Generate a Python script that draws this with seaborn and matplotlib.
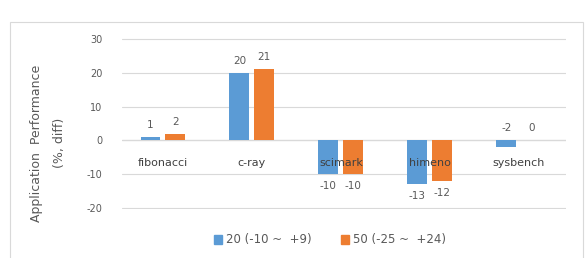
import matplotlib
matplotlib.use("Agg")
import matplotlib.pyplot as plt
import matplotlib.patches as mpatches
import pandas as pd
import seaborn as sns

# values
benchmarks = ["fibonacci", "c-ray", "scimark", "himeno", "sysbench"]
series_names = ["20 (-10 ~  +9)", "50 (-25 ~  +24)"]
perf_20 = [1, 20, -10, -13, -2]
perf_50 = [2, 21, -10, -12, 0]
y_ticks = [-20, -10, 0, 10, 20, 30]

colors = ["#5B9BD5", "#ED7D31"]
text_color = "#595959"

df = pd.DataFrame({
    "benchmark": benchmarks * 2,
    "series": [series_names[0]] * len(benchmarks) + [series_names[1]] * len(benchmarks),
    "value": perf_20 + perf_50,
})

sns.set_style("white")
plt.rcParams["font.family"] = ["DejaVu Sans"]

fig = plt.figure(figsize=(5.87, 2.58), dpi=100)
# light outer frame like the Excel chart area
fig.patches.append(mpatches.Rectangle((10 / 587, -0.05), 573 / 587, 1 - 22 / 258 + 0.05,
                                      transform=fig.transFigure, fill=False,
                                      edgecolor="#d9d9d9", linewidth=0.8))
ax = fig.add_axes([122 / 587, 1 - 209 / 258, 444 / 587, 171 / 258])

sns.barplot(data=df, x="benchmark", y="value", hue="series", palette=colors,
            width=0.56, gap=0.2, ax=ax, legend=False, saturation=1, linewidth=0)

ax.set_ylim(-20.3, 30.3)
ax.set_xlim(-0.46, 4.53)
ax.set_yticks(y_ticks)
ax.set_yticklabels([str(t) for t in y_ticks], fontsize=7, color=text_color)
ax.tick_params(axis="y", length=0, pad=14)
ax.set_xticks([])
ax.set_xlabel("")
ax.set_ylabel("")
ax.grid(axis="y", color="#d9d9d9", linewidth=0.8)
ax.set_axisbelow(True)
for s in ax.spines.values():
    s.set_visible(False)
ax.axhline(0, color="#d0d0d0", linewidth=0.9, zorder=0)

# y axis title, placed like in the Excel chart
fig.text(48 / 587, 1 - 143 / 258, "Application  Performance\n(%, diff)", rotation=90,
         ha="center", va="center", fontsize=9, color=text_color, linespacing=2.0)

# category labels sit just below the zero line
for i, name in enumerate(benchmarks):
    ax.annotate(name, (i, 0), xytext=(0, -16), textcoords="offset points",
                ha="center", va="center", fontsize=8, color="#404040")

# value labels; tiny bars get their label above the zero line
for container in ax.containers:
    for bar in container:
        h = bar.get_height()
        x = bar.get_x() + bar.get_width() / 2
        if h >= 0 or abs(h) < 5:
            ax.annotate(f"{h:.0f}", (x, max(h, 0)), xytext=(0, 5), textcoords="offset points",
                        ha="center", va="bottom", fontsize=7.5, color=text_color)
        else:
            ax.annotate(f"{h:.0f}", (x, h), xytext=(0, -5), textcoords="offset points",
                        ha="center", va="top", fontsize=7.5, color=text_color)

handles = [mpatches.Patch(color=c, label=n) for c, n in zip(colors, series_names)]
leg = fig.legend(handles=handles, loc="center", bbox_to_anchor=(330 / 587, 1 - 240 / 258),
                 ncol=2, frameon=False, fontsize=8.5, handlelength=0.7, handleheight=0.7,
                 handletextpad=0.3, columnspacing=2.5)
for t in leg.get_texts():
    t.set_color(text_color)

fig.savefig("out.png", dpi=100)
